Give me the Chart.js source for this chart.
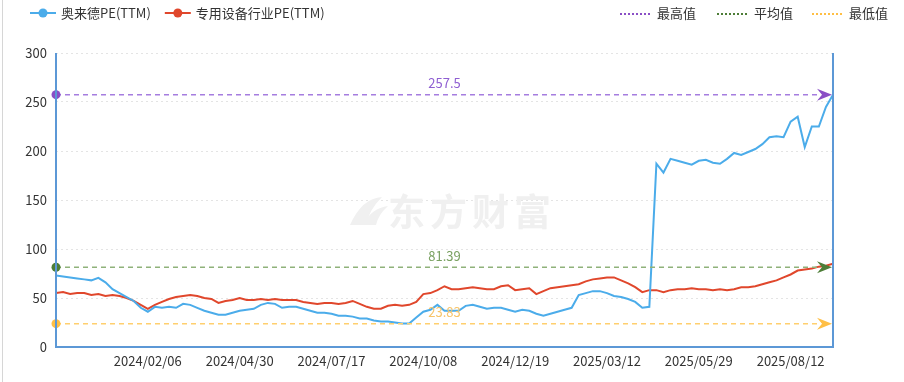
<!DOCTYPE html>
<html><head><meta charset="utf-8">
<script src="https://cdn.jsdelivr.net/npm/chart.js@4/dist/chart.umd.min.js"></script>
<style>html,body{margin:0;padding:0;background:#fff}#wrap{width:904px;height:382px;position:relative}</style>
</head><body><div id="wrap"><canvas id="c" width="904" height="382"></canvas></div>
<script>
// ---- data ----
const xTickLabels = ['2024/02/06','2024/04/30','2024/07/17','2024/10/08','2024/12/19','2025/03/12','2025/05/29','2025/08/12'];
const xTickIndex = [13,26,39,52,65,78,91,104];
const seriesNames = ['奥来德PE(TTM)','专用设备行业PE(TTM)'];
const companyPE = [
73,72,71,70,69,68,70.5,66,59,55,
51,47,40,36,41,40,41,40,44,43,
40,37,35,33,33,35,37,38,39,43,
45,44,40,41,41,39,37,35,35,34,
32,32,31,29,29,27,26,26,25,24,
24,30,36,38,43,37,37,37,42,43,
41,39,40,40,38,36,38,37,34,32,
34,36,38,40,53,55,57,57,55,52,
51,49,46,40,41,187,178,192,190,188,
186,190,191,188,187,192,198,196,199,202,
207,214,215,214,230,235,204,225,225,245,
257.5];
const industryPE = [
55,56,54,55,55,53,54,52,53,52,
50,47,43,39,43,46,49,51,52,53,
52,50,49,45,47,48,50,48,48,49,
48,49,48,48,48,46,45,44,45,45,
44,45,47,44,41,39,39,42,43,42,
43,46,54,55,58,62,59,59,60,61,
60,59,59,62,63,58,59,60,54,57,
60,61,62,63,64,67,69,70,71,71,
68,65,61,56,58,58,56,58,59,59,
60,59,59,58,59,58,59,61,61,62,
64,66,68,71,74,78,79,80,82,83,
85];
const markNames = ['最高值','平均值','最低值'];
const markValues = [257.5, 81.39, 23.83];
const yTicks = [0,50,100,150,200,250,300];

// ---- styles ----
const FONT = '"Noto Sans CJK SC","Noto Sans",sans-serif';
const seriesColors = ['#4bacea','#e0472c'];
const markLineColors = ['#a57ddf','#8fb27a','#ffcf6e'];
const markDotColors = ['#8a4fc6','#4d7d37','#ffbf45'];
const markLabelColors = ['#8f5fd2','#79a060','#f7c46a'];
const axisColor = '#5c98d6';

const indices = companyPE.map((_, i) => i);

const decor = {
  id: 'decor',
  beforeDraw(chart) {
    const ctx = chart.ctx;
    ctx.save();
    ctx.fillStyle = '#fff';
    ctx.fillRect(0, 0, chart.width, chart.height);
    ctx.strokeStyle = '#d6d6d6';
    ctx.lineWidth = 1;
    ctx.beginPath();
    ctx.moveTo(2.5, 0); ctx.lineTo(2.5, 382);
    ctx.stroke();
    ctx.restore();
  },
  beforeDatasetsDraw(chart) {
    const ctx = chart.ctx;
    ctx.save();
    ctx.fillStyle = '#f0f0f0';
    ctx.font = 'bold 37px ' + FONT;
    ctx.textBaseline = 'middle';
    ctx.textAlign = 'left';
    const cy = 212;
    ctx.beginPath();
    ctx.moveTo(350, cy + 13);
    ctx.quadraticCurveTo(362, cy - 14, 382, cy - 15);
    ctx.quadraticCurveTo(369, cy - 2, 366, cy + 13);
    ctx.closePath();
    ctx.fill();
    ctx.beginPath();
    ctx.moveTo(362, cy + 13);
    ctx.quadraticCurveTo(372, cy - 4, 388, cy - 6);
    ctx.quadraticCurveTo(378, cy + 3, 376, cy + 13);
    ctx.closePath();
    ctx.fill();
    if ('letterSpacing' in ctx) ctx.letterSpacing = '5px';
    ctx.fillText('东方财富', 388, cy);
    ctx.restore();
  },
  afterDatasetsDraw(chart) {
    const ctx = chart.ctx, a = chart.chartArea, ys = chart.scales.y;
    ctx.save();
    markValues.forEach((v, k) => {
      const y = ys.getPixelForValue(v);
      ctx.strokeStyle = markLineColors[k];
      ctx.lineWidth = 1.5;
      ctx.setLineDash([5, 4]);
      ctx.beginPath();
      ctx.moveTo(a.left, y); ctx.lineTo(a.right - 12, y);
      ctx.stroke();
      ctx.setLineDash([]);
      ctx.fillStyle = markDotColors[k];
      ctx.beginPath(); ctx.arc(a.left, y, 4.5, 0, Math.PI * 2); ctx.fill();
      const tx = a.right - 1;
      ctx.beginPath();
      ctx.moveTo(tx, y);
      ctx.lineTo(tx - 15, y - 6);
      ctx.lineTo(tx - 10, y);
      ctx.lineTo(tx - 15, y + 6);
      ctx.closePath();
      ctx.fill();
      ctx.fillStyle = markLabelColors[k];
      ctx.font = '13px ' + FONT;
      ctx.textAlign = 'center';
      ctx.textBaseline = 'bottom';
      ctx.fillText(String(v), (a.left + a.right) / 2, y - 5);
    });
    ctx.restore();
  },
  afterDraw(chart) {
    const ctx = chart.ctx, a = chart.chartArea;
    ctx.save();
    ctx.strokeStyle = axisColor;
    ctx.lineWidth = 2;
    ctx.beginPath();
    ctx.moveTo(a.left, a.top); ctx.lineTo(a.left, a.bottom);
    ctx.lineTo(a.right, a.bottom); ctx.lineTo(a.right, a.top);
    ctx.stroke();
    ctx.font = '13px ' + FONT;
    ctx.textBaseline = 'middle';
    ctx.textAlign = 'left';
    const ly = 13;
    let lx = 30;
    seriesNames.forEach((n, i) => {
      ctx.strokeStyle = seriesColors[i];
      ctx.lineWidth = 2;
      ctx.beginPath(); ctx.moveTo(lx, ly); ctx.lineTo(lx + 26, ly); ctx.stroke();
      ctx.fillStyle = seriesColors[i];
      ctx.beginPath(); ctx.arc(lx + 13, ly, 4.5, 0, Math.PI * 2); ctx.fill();
      ctx.fillStyle = '#333';
      ctx.fillText(n, lx + 31, ly);
      lx += 31 + ctx.measureText(n).width + 14;
    });
    const mx = [620, 717, 812];
    markNames.forEach((n, k) => {
      ctx.strokeStyle = markDotColors[k];
      ctx.lineWidth = 2;
      ctx.setLineDash([2, 2]);
      ctx.beginPath(); ctx.moveTo(mx[k], ly + 1); ctx.lineTo(mx[k] + 30, ly + 1); ctx.stroke();
      ctx.setLineDash([]);
      ctx.fillStyle = '#333';
      ctx.fillText(n, mx[k] + 37, ly);
    });
    ctx.restore();
  }
};

new Chart(document.getElementById('c'), {
  type: 'line',
  data: {
    datasets: [
      { label: seriesNames[0], data: indices.map(i => ({x: i, y: companyPE[i]})), borderColor: seriesColors[0], borderWidth: 2, pointRadius: 0, tension: 0 },
      { label: seriesNames[1], data: indices.map(i => ({x: i, y: industryPE[i]})), borderColor: seriesColors[1], borderWidth: 2, pointRadius: 0, tension: 0 }
    ]
  },
  options: {
    responsive: false,
    animation: false,
    events: [],
    layout: { padding: { left: 0, right: 71, top: 53, bottom: 0 } },
    plugins: { legend: { display: false }, tooltip: { enabled: false } },
    scales: {
      x: {
        type: 'linear', min: 0, max: companyPE.length - 1,
        afterFit: s => { s.height = 35; },
        afterBuildTicks: s => { s.ticks = xTickIndex.map(v => ({ value: v })); },
        grid: { display: false, drawTicks: false },
        border: { display: false },
        ticks: {
          autoSkip: false, maxRotation: 0, padding: 6, color: '#333',
          font: { family: FONT, size: 13 },
          callback: v => { const k = xTickIndex.indexOf(v); return k >= 0 ? xTickLabels[k] : ''; }
        }
      },
      y: {
        min: 0, max: 300,
        afterFit: s => { s.width = 56; },
        afterBuildTicks: s => { s.ticks = yTicks.map(v => ({ value: v })); },
        grid: { color: c => c.tick.value === 0 ? 'rgba(0,0,0,0)' : '#e4e4e4', drawTicks: false, lineWidth: 1 },
        border: { display: false, dash: [2, 3] },
        ticks: { padding: 9, color: '#333', font: { family: FONT, size: 13 } }
      }
    }
  },
  plugins: [decor]
});
</script>
</body></html>
